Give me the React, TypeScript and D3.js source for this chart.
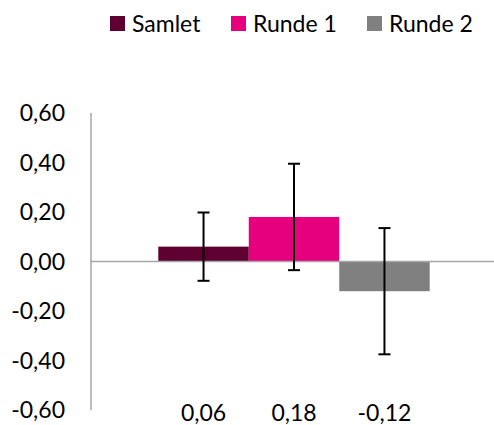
import React from "react";
import * as d3 from "d3";

const series = ["Samlet", "Runde 1", "Runde 2"];
const values = [0.06, 0.18, -0.12];
const errors = [0.138, 0.215, 0.255];
const colors = ["#5E0030", "#E6007E", "#808080"];
const yTicks = [-0.6, -0.4, -0.2, 0, 0.2, 0.4, 0.6];

const W = 494;
const H = 425;
const FONT = "Lato, 'Liberation Sans', sans-serif";

const fmt = (v: number) => d3.format(".2f")(v).replace(".", ",").replace("−", "-");

export default function App() {
  const y = d3.scaleLinear().domain([-0.6, 0.6]).range([410, 113]);
  const xOuter = d3.scaleBand<string>().domain(["g"]).range([91, 497]).paddingOuter(0.248).paddingInner(0);
  const x = d3
    .scaleBand<string>()
    .domain(series)
    .range([xOuter("g") as number, (xOuter("g") as number) + xOuter.bandwidth()])
    .padding(0);
  const cap = 6;

  const legendX = [110, 231, 367];

  return (
    <svg width={W} height={H} style={{ position: "absolute", left: 0, top: 0, background: "#fff" }}>
      {/* legend */}
      {series.map((s, i) => (
        <g key={s}>
          <rect x={legendX[i]} y={16} width={15} height={15} fill={colors[i]} />
          <text x={legendX[i] + 22} y={31.5} fontFamily={FONT} fontSize={23} fill="#000">
            {s}
          </text>
        </g>
      ))}
      {/* y axis */}
      <line x1={91} x2={91} y1={y(0.6)} y2={y(-0.6)} stroke="#A6A6A6" strokeWidth={1.5} />
      {yTicks.map((t) => (
        <text
          key={t}
          x={65}
          y={y(t)}
          dy="0.35em"
          textAnchor="end"
          fontFamily={FONT}
          fontSize={23}
          fill="#000"
        >
          {fmt(t)}
        </text>
      ))}
      {/* bars */}
      {series.map((s, i) => (
        <rect
          key={s}
          x={x(s)}
          y={y(Math.max(0, values[i]))}
          width={x.bandwidth()}
          height={Math.abs(y(values[i]) - y(0))}
          fill={colors[i]}
        />
      ))}
      {/* zero line */}
      <line x1={91} x2={494} y1={y(0)} y2={y(0)} stroke="#A6A6A6" strokeWidth={1.5} />
      {/* error bars */}
      {series.map((s, i) => {
        const cx = (x(s) as number) + x.bandwidth() / 2;
        const top = y(values[i] + errors[i]);
        const bot = y(values[i] - errors[i]);
        return (
          <g key={s} stroke="#000" strokeWidth={2}>
            <line x1={cx} x2={cx} y1={top} y2={bot} />
            <line x1={cx - cap} x2={cx + cap} y1={top} y2={top} />
            <line x1={cx - cap} x2={cx + cap} y1={bot} y2={bot} />
          </g>
        );
      })}
      {/* category value labels */}
      {series.map((s, i) => (
        <text
          key={s}
          x={(x(s) as number) + x.bandwidth() / 2}
          y={421}
          textAnchor="middle"
          fontFamily={FONT}
          fontSize={23}
          fill="#000"
        >
          {fmt(values[i])}
        </text>
      ))}
    </svg>
  );
}
